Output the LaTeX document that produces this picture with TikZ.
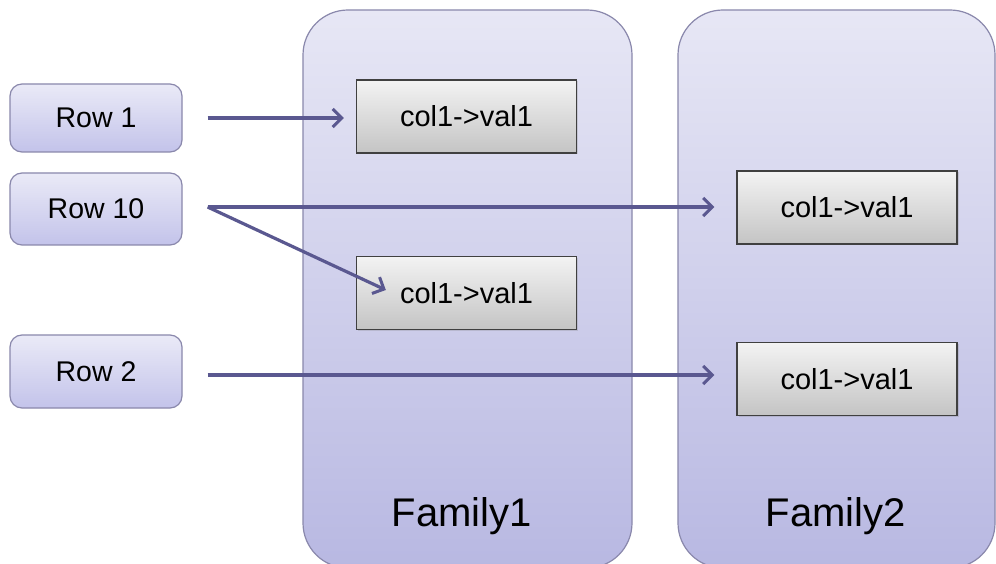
\documentclass[tikz,border=0pt]{standalone}
\usepackage{fontspec}
\setmainfont{Liberation Sans}
\usetikzlibrary{arrows.meta,shadows}

\definecolor{famtop}{HTML}{E7E7F5}
\definecolor{fambot}{HTML}{B8B8E2}
\definecolor{famline}{HTML}{8A88AC}
\definecolor{rowtop}{HTML}{EAEAF7}
\definecolor{rowbot}{HTML}{C3C3EA}
\definecolor{celltop}{HTML}{F3F3F3}
\definecolor{cellbot}{HTML}{C4C4C4}
\definecolor{cellline}{HTML}{404040}
\definecolor{arrowc}{HTML}{5A5890}

\tikzset{
  family/.style={draw=famline, line width=1.2pt, rounded corners=45pt,
    top color=famtop, bottom color=fambot, shading angle=0},
  rowbox/.style={draw=famline, line width=1.2pt, rounded corners=12pt,
    top color=rowtop, bottom color=rowbot, minimum width=172pt,
    font=\fontsize{28.5}{32}\selectfont, inner sep=0pt},
  cell/.style={draw=cellline, line width=1.3pt,
    top color=celltop, bottom color=cellbot, minimum width=220pt,
    minimum height=73pt, font=\fontsize{29}{32}\selectfont, inner sep=0pt,
    drop shadow={shadow xshift=1.5pt, shadow yshift=-1.5pt, opacity=0.25}},
  famlabel/.style={font=\fontsize{40}{44}\selectfont, inner sep=0pt, anchor=base},
  link/.style={draw=arrowc, line width=3.2pt,
    -{Straight Barb[length=9pt,width=18pt,line width=3pt]}},
}

\begin{document}
\begin{tikzpicture}[x=1pt, y=-1pt]
  \useasboundingbox (0,0) rectangle (996,564);
  \fill[white] (0,0) rectangle (996,564);

  % column family containers
  \path[family] (303,10) rectangle (632,568);
  \path[family] (678,10) rectangle (995,568);
  \node[famlabel] (fam1) at (462,526) {Family1};
  \node[famlabel] (fam2) at (836,526) {Family2};

  % row keys
  \node[rowbox, minimum height=68pt] (row1)  at (96,118) {Row 1};
  \node[rowbox, minimum height=72pt] (row10) at (96,209) {Row 10};
  \node[rowbox, minimum height=73pt] (row2)  at (96,371.5) {Row 2};

  % cells
  \node[cell] (f1a) at (466.5,116.5) {col1->val1};
  \node[cell] (f1b) at (466.5,293)   {col1->val1};
  \node[cell] (f2a) at (847,207.5)   {col1->val1};
  \node[cell] (f2b) at (847,379)     {col1->val1};

  % connector end points
  \coordinate (r1out)  at ([xshift=25pt]row1.east);
  \coordinate (r10out) at ([xshift=25pt,yshift=2pt]row10.east);
  \coordinate (r2out)  at ([xshift=25pt,yshift=-3.5pt]row2.east);
  \coordinate (f1bin)  at ([xshift=30pt,yshift=3pt]f1b.west);

  % connectors
  \draw[link, shorten >=12pt] (r1out) -- (r1out -| f1a.west);
  \draw[link, shorten >=22pt] (r10out) -- (r10out -| f2a.west);
  \draw[link] (r10out) -- (f1bin);
  \draw[link, shorten >=22pt] (r2out) -- (r2out -| f2b.west);
\end{tikzpicture}
\end{document}
